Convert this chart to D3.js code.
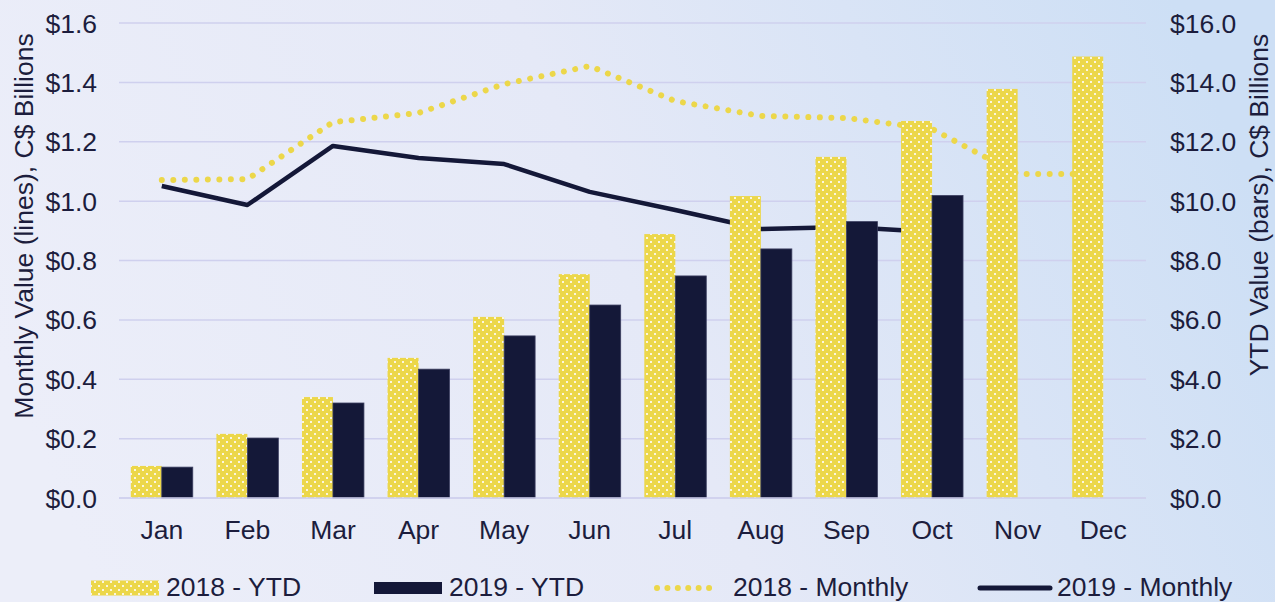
<!DOCTYPE html>
<html>
<head>
<meta charset="utf-8">
<script src="https://cdn.jsdelivr.net/npm/d3@7"></script>
<style>
  body { margin: 0; overflow: hidden; }
  svg { display: block; font-family: 'Liberation Sans', Arial, sans-serif; }
</style>
</head>
<body>
<svg id="chart" width="1275" height="602"></svg>
<script>
// Data
const months = ['Jan', 'Feb', 'Mar', 'Apr', 'May', 'Jun', 'Jul', 'Aug', 'Sep', 'Oct', 'Nov', 'Dec'];
const ytd2018 = [1.08, 2.16, 3.40, 4.72, 6.10, 7.54, 8.89, 10.17, 11.49, 12.70, 13.78, 14.87];
const ytd2019 = [1.04, 2.02, 3.20, 4.34, 5.46, 6.50, 7.48, 8.39, 9.31, 10.19];
const monthly2018 = [1.071, 1.074, 1.266, 1.297, 1.394, 1.455, 1.337, 1.287, 1.280, 1.243, 1.091, 1.091];
const monthly2019 = [1.051, 0.987, 1.186, 1.145, 1.125, 1.031, 0.970, 0.906, 0.913, 0.896];
const leftTicks = [0, 0.2, 0.4, 0.6, 0.8, 1.0, 1.2, 1.4, 1.6];
const rightTicks = [0, 2, 4, 6, 8, 10, 12, 14, 16];
const legendItems = ['2018 - YTD', '2019 - YTD', '2018 - Monthly', '2019 - Monthly'];

// Colours
const yellow = '#ecd74a';
const navy = '#141838';
const textColor = '#1c1d3d';
const fontSize = 26.5;

// Layout
const layout = { left: 119, right: 1146, top: 23, bottom: 498 };

const svg = d3.select('#chart');
const defs = svg.append('defs');

// Background gradient
const bg = defs.append('linearGradient').attr('id', 'bg')
  .attr('x1', 0).attr('y1', 0.6).attr('x2', 1).attr('y2', 0.4);
bg.append('stop').attr('offset', 0).attr('stop-color', '#eceef9');
bg.append('stop').attr('offset', 0.5).attr('stop-color', '#e5e9f7');
bg.append('stop').attr('offset', 1).attr('stop-color', '#cddff5');
svg.append('rect').attr('width', 1275).attr('height', 602).attr('fill', 'url(#bg)');

// Dotted pattern for 2018 bars
const pat = defs.append('pattern').attr('id', 'dots')
  .attr('patternUnits', 'userSpaceOnUse').attr('width', 8).attr('height', 8);
pat.append('rect').attr('width', 8).attr('height', 8).attr('fill', yellow);
pat.append('rect').attr('x', 2).attr('y', 1).attr('width', 2).attr('height', 2).attr('fill', '#fbf6df');
pat.append('rect').attr('x', 6).attr('y', 5).attr('width', 2).attr('height', 2).attr('fill', '#fbf6df');

// Scales
const x = d3.scaleBand()
  .domain(months)
  .range([layout.left, layout.right])
  .paddingInner(0.276)
  .paddingOuter(0.138);
const xSeries = d3.scaleBand()
  .domain(['2018', '2019'])
  .range([0, x.bandwidth()]);
const yLeft = d3.scaleLinear().domain([0, 1.6]).range([layout.bottom, layout.top]);
const yRight = d3.scaleLinear().domain([0, 16]).range([layout.bottom, layout.top]);

// Gridlines
svg.append('g').selectAll('line')
  .data(leftTicks)
  .join('line')
  .attr('x1', layout.left).attr('x2', layout.right)
  .attr('y1', d => yLeft(d)).attr('y2', d => yLeft(d))
  .attr('stroke', '#cfd0ee').attr('stroke-width', 1.5);

// Lines (drawn under the bars, as in the reference)
const lineGen = d3.line()
  .x((d, i) => x(months[i]) + x.bandwidth() / 2)
  .y(d => yLeft(d));

svg.append('path')
  .datum(monthly2018)
  .attr('d', lineGen)
  .attr('fill', 'none')
  .attr('stroke', yellow)
  .attr('stroke-width', 6)
  .attr('stroke-linecap', 'round')
  .attr('stroke-dasharray', '0.01 11.5');

svg.append('path')
  .datum(monthly2019)
  .attr('d', lineGen)
  .attr('fill', 'none')
  .attr('stroke', navy)
  .attr('stroke-width', 4.5)
  .attr('stroke-linejoin', 'round');

// Bars
svg.append('g').selectAll('rect')
  .data(ytd2018)
  .join('rect')
  .attr('x', (d, i) => x(months[i]) + xSeries('2018'))
  .attr('y', d => yRight(d))
  .attr('width', xSeries.bandwidth())
  .attr('height', d => yRight(0) - yRight(d))
  .attr('fill', 'url(#dots)');

svg.append('g').selectAll('rect')
  .data(ytd2019)
  .join('rect')
  .attr('x', (d, i) => x(months[i]) + xSeries('2019'))
  .attr('y', d => yRight(d))
  .attr('width', xSeries.bandwidth())
  .attr('height', d => yRight(0) - yRight(d))
  .attr('fill', navy)
  .attr('stroke', '#3c3f60')
  .attr('stroke-width', 0.8);

// Baseline
svg.append('line')
  .attr('x1', layout.left).attr('x2', layout.right)
  .attr('y1', layout.bottom).attr('y2', layout.bottom)
  .attr('stroke', '#cfd0ee').attr('stroke-width', 1.5);

// Left tick labels
svg.append('g').selectAll('text')
  .data(leftTicks)
  .join('text')
  .attr('x', 97)
  .attr('y', d => yLeft(d))
  .attr('dy', '0.36em')
  .attr('text-anchor', 'end')
  .attr('font-size', fontSize)
  .attr('fill', textColor)
  .text(d => '$' + d3.format('.1f')(d));

// Right tick labels
svg.append('g').selectAll('text')
  .data(rightTicks)
  .join('text')
  .attr('x', 1170)
  .attr('y', d => yRight(d))
  .attr('dy', '0.36em')
  .attr('text-anchor', 'start')
  .attr('font-size', fontSize)
  .attr('fill', textColor)
  .text(d => '$' + d3.format('.1f')(d));

// Category labels
svg.append('g').selectAll('text')
  .data(months)
  .join('text')
  .attr('x', d => x(d) + x.bandwidth() / 2)
  .attr('y', 539)
  .attr('text-anchor', 'middle')
  .attr('font-size', fontSize)
  .attr('fill', textColor)
  .text(d => d);

// Axis titles
svg.append('text')
  .attr('transform', 'translate(33, 226) rotate(-90)')
  .attr('text-anchor', 'middle')
  .attr('font-size', fontSize)
  .attr('fill', textColor)
  .text('Monthly Value (lines), C$ Billions');

svg.append('text')
  .attr('transform', 'translate(1268, 205) rotate(-90)')
  .attr('text-anchor', 'middle')
  .attr('font-size', fontSize)
  .attr('fill', textColor)
  .text('YTD Value (bars), C$ Billions');

// Legend
const legendY = 588;
const legend = svg.append('g');
legend.append('rect')
  .attr('x', 91).attr('y', legendY - 7.5).attr('width', 68).attr('height', 15)
  .attr('fill', 'url(#dots)');
legend.append('rect')
  .attr('x', 374).attr('y', legendY - 6).attr('width', 68).attr('height', 12)
  .attr('fill', navy);
legend.append('line')
  .attr('x1', 657).attr('x2', 719).attr('y1', legendY).attr('y2', legendY)
  .attr('stroke', yellow).attr('stroke-width', 6)
  .attr('stroke-linecap', 'round').attr('stroke-dasharray', '0.01 10.4');
legend.append('line')
  .attr('x1', 980).attr('x2', 1050).attr('y1', legendY).attr('y2', legendY)
  .attr('stroke', navy).attr('stroke-width', 5)
  .attr('stroke-linecap', 'round');

legend.selectAll('text')
  .data(legendItems)
  .join('text')
  .attr('x', (d, i) => [166, 449, 733, 1057][i])
  .attr('y', 596)
  .attr('font-size', fontSize)
  .attr('fill', textColor)
  .text(d => d);
</script>
</body>
</html>
